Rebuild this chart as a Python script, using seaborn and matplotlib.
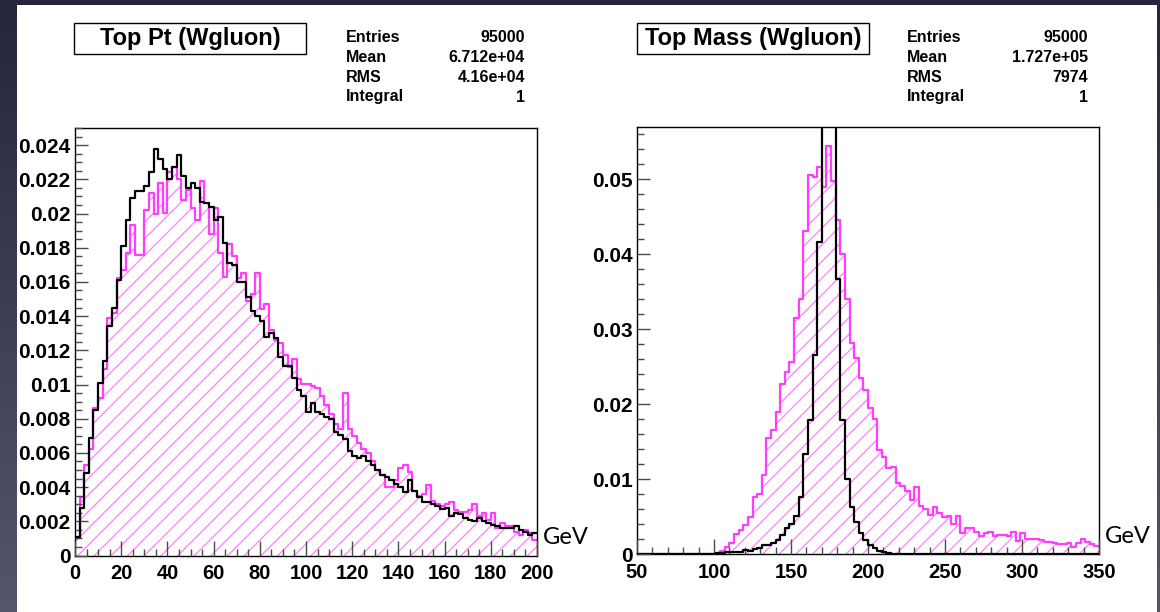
import numpy as np
import matplotlib
matplotlib.use("Agg")
import matplotlib.pyplot as plt
import seaborn as sns
from matplotlib.patches import Rectangle
from matplotlib.ticker import MultipleLocator, FixedLocator, FixedFormatter

# ---------------- data ----------------
pt_range = (0, 200)
pt_black = [0.00110, 0.00280, 0.00480, 0.00690, 0.00850, 0.01010, 0.01140, 0.01340, 0.01450, 0.01610,
            0.01810, 0.01960, 0.02090, 0.02130, 0.02130, 0.02160, 0.02240, 0.02380, 0.02320, 0.02260,
            0.02200, 0.02270, 0.02340, 0.02220, 0.02150, 0.02180, 0.02150, 0.02070, 0.02060, 0.02040,
            0.01960, 0.01980, 0.01830, 0.01710, 0.01700, 0.01600, 0.01600, 0.01510, 0.01430, 0.01400,
            0.01370, 0.01280, 0.01300, 0.01270, 0.01160, 0.01110, 0.01110, 0.01040, 0.00970, 0.00930,
            0.00840, 0.00890, 0.00840, 0.00830, 0.00810, 0.00800, 0.00720, 0.00705, 0.00680, 0.00610,
            0.00580, 0.00570, 0.00580, 0.00550, 0.00530, 0.00500, 0.00470, 0.00460, 0.00440, 0.00420,
            0.00400, 0.00370, 0.00440, 0.00380, 0.00340, 0.00315, 0.00315, 0.00300, 0.00290, 0.00270,
            0.00275, 0.00230, 0.00250, 0.00240, 0.00220, 0.00210, 0.00200, 0.00220, 0.00200, 0.00190,
            0.00180, 0.00170, 0.00160, 0.00160, 0.00160, 0.00170, 0.00150, 0.00140, 0.00120, 0.00130]
pt_pink = [0.00100, 0.00340, 0.00530, 0.00620, 0.00860, 0.00920, 0.01090, 0.01390, 0.01420, 0.01620,
           0.01670, 0.01770, 0.01930, 0.01760, 0.01760, 0.02020, 0.02120, 0.02000, 0.02180, 0.02000,
           0.02240, 0.02270, 0.02200, 0.02080, 0.02140, 0.02030, 0.01960, 0.02190, 0.02060, 0.01880,
           0.02030, 0.01770, 0.01630, 0.01820, 0.01750, 0.01620, 0.01650, 0.01490, 0.01530, 0.01650,
           0.01440, 0.01470, 0.01320, 0.01260, 0.01240, 0.01170, 0.01100, 0.01150, 0.01030, 0.01000,
           0.01000, 0.00990, 0.00980, 0.00930, 0.00880, 0.00830, 0.00770, 0.00740, 0.00950, 0.00740,
           0.00700, 0.00660, 0.00620, 0.00600, 0.00550, 0.00500, 0.00470, 0.00400, 0.00400, 0.00440,
           0.00510, 0.00530, 0.00490, 0.00380, 0.00350, 0.00360, 0.00410, 0.00320, 0.00300, 0.00290,
           0.00300, 0.00310, 0.00265, 0.00255, 0.00255, 0.00265, 0.00300, 0.00230, 0.00250, 0.00210,
           0.00250, 0.00160, 0.00190, 0.00170, 0.00170, 0.00140, 0.00120, 0.00150, 0.00130, 0.00090]

mass_range = (50, 350)
mass_black = [0.00010, 0.00005, 0.00010, 0.00005, 0.00010, 0.00005, 0.00005, 0.00010, 0.00005, 0.00005,
              0.00005, 0.00005, 0.00010, 0.00005, 0.00010, 0.00010, 0.00010, 0.00015, 0.00020, 0.00025,
              0.00025, 0.00037, 0.00037, 0.00060, 0.00050, 0.00070, 0.00080, 0.00120, 0.00120, 0.00150,
              0.00190, 0.00260, 0.00350, 0.00400, 0.00510, 0.00770, 0.01340, 0.01790, 0.02660, 0.04170,
              0.20000, 0.33000, 0.25000, 0.03670, 0.01790, 0.01010, 0.00630, 0.00430, 0.00280, 0.00190,
              0.00120, 0.00080, 0.00050, 0.00025, 0.00020, 0.00010, 0.00010, 0.00010, 0.00010, 0.00010,
              0.00005, 0.00005, 0.00005, 0.00005, 0.00005, 0.00005, 0.00005, 0.00005, 0.00005, 0.00005,
              0.00005, 0.00005, 0.00005, 0.00005, 0.00005, 0.00005, 0.00005, 0.00005, 0.00005, 0.00005,
              0.00005, 0.00005, 0.00005, 0.00005, 0.00005, 0.00005, 0.00005, 0.00005, 0.00005, 0.00005,
              0.00005, 0.00005, 0.00005, 0.00005, 0.00005, 0.00005, 0.00005, 0.00005, 0.00005, 0.00005]
mass_pink = [0.00005, 0.00005, 0.00005, 0.00005, 0.00005, 0.00005, 0.00005, 0.00005, 0.00005, 0.00005,
             0.00005, 0.00005, 0.00005, 0.00005, 0.00005, 0.00005, 0.00010, 0.00020, 0.00050, 0.00100,
             0.00150, 0.00270, 0.00320, 0.00390, 0.00500, 0.00770, 0.00810, 0.01060, 0.01550, 0.01660,
             0.01900, 0.02270, 0.02430, 0.02570, 0.03150, 0.03400, 0.04310, 0.05060, 0.05030, 0.05170,
             0.04900, 0.05450, 0.04980, 0.04460, 0.04000, 0.03400, 0.02820, 0.02620, 0.02350, 0.02190,
             0.01950, 0.01810, 0.01390, 0.01300, 0.01150, 0.01160, 0.00950, 0.00910, 0.00840, 0.00720,
             0.00900, 0.00640, 0.00600, 0.00520, 0.00630, 0.00550, 0.00500, 0.00510, 0.00400, 0.00510,
             0.00280, 0.00350, 0.00350, 0.00300, 0.00240, 0.00280, 0.00300, 0.00240, 0.00260, 0.00260,
             0.00240, 0.00300, 0.00180, 0.00280, 0.00210, 0.00200, 0.00210, 0.00190, 0.00170, 0.00170,
             0.00155, 0.00140, 0.00140, 0.00155, 0.00100, 0.00150, 0.00200, 0.00170, 0.00140, 0.00110]

pt_yticks = [0, 0.002, 0.004, 0.006, 0.008, 0.01, 0.012, 0.014, 0.016, 0.018, 0.02, 0.022, 0.024]
pt_ylabels = ["0", "0.002", "0.004", "0.006", "0.008", "0.01", "0.012", "0.014", "0.016",
              "0.018", "0.02", "0.022", "0.024"]
pt_xticks = [0, 20, 40, 60, 80, 100, 120, 140, 160, 180, 200]
mass_yticks = [0, 0.01, 0.02, 0.03, 0.04, 0.05]
mass_ylabels = ["0", "0.01", "0.02", "0.03", "0.04", "0.05"]
mass_xticks = [50, 100, 150, 200, 250, 300, 350]

titles = ["Top Pt (Wgluon)", "Top Mass (Wgluon)"]
stat_names = ["Entries", "Mean", "RMS", "Integral"]
stat_values = [["95000", "6.712e+04", "4.16e+04", "1"],
               ["95000", "1.727e+05", "7974", "1"]]
unit_label = "GeV"

# ---------------- style ----------------
W, H = 1160, 612
sns.set_theme(style="white")
plt.rcParams["font.family"] = ["Liberation Sans", "DejaVu Sans"]
plt.rcParams["hatch.linewidth"] = 0.9

PINK = "#ff3cff"
PINK_HATCH = "#ff80ff"
TICK_C = "#4a4a4a"

fig = plt.figure(figsize=(W / 100, H / 100), dpi=100)
fig.patch.set_facecolor("#2c2d43")

# gradient background + white page
bg = fig.add_axes([0, 0, 1, 1], zorder=-10)
grad = np.linspace(0, 1, 256)[:, None]
bg.imshow(grad, aspect="auto", cmap=matplotlib.colors.LinearSegmentedColormap.from_list(
    "bg", ["#25263b", "#55566b"]), extent=[0, 1, 0, 1], origin="upper")
bg.set_axis_off()


def fx(px):
    return px / W


def fy(py):
    return 1 - py / H


fig.add_artist(Rectangle((fx(16.7), fy(H)), fx(1157) - fx(16.7), fy(5) - fy(H),
                         transform=fig.transFigure, facecolor="white", edgecolor="none", zorder=-5))


def draw_panel(frame, rng, black, pink, ymax, yticks, ylabels, ytick_minor, xticks, xminor,
               title, values, box_x, stat_x, val_x):
    x0, y0, x1, y1 = frame
    ax = fig.add_axes([fx(x0), fy(y1), fx(x1) - fx(x0), fy(y0) - fy(y1)])
    edges = list(np.linspace(rng[0], rng[1], len(black) + 1))
    centers = [0.5 * (a + b) for a, b in zip(edges[:-1], edges[1:])]

    # hatched fill for pink histogram
    sns.histplot(x=centers, weights=pink, bins=edges, element="step", fill=True,
                 color=PINK_HATCH, ax=ax, linewidth=0, zorder=1)
    for coll in ax.collections:
        coll.set_facecolor("none")
        coll.set_edgecolor(PINK_HATCH)
        coll.set_hatch("//")
        coll.set_linewidth(0)
    sns.histplot(x=centers, weights=pink, bins=edges, element="step", fill=False,
                 color=PINK, ax=ax, linewidth=1.6, zorder=2)
    sns.histplot(x=centers, weights=black, bins=edges, element="step", fill=False,
                 color="black", ax=ax, linewidth=1.6, zorder=3)

    ax.set_xlim(rng)
    ax.set_ylim(0, ymax)
    ax.set_xlabel("")
    ax.set_ylabel("")
    ax.set_facecolor("white")
    ax.set_axisbelow(False)
    ax.yaxis.set_major_locator(FixedLocator(yticks))
    ax.yaxis.set_major_formatter(FixedFormatter(ylabels))
    ax.yaxis.set_minor_locator(MultipleLocator(ytick_minor))
    ax.xaxis.set_major_locator(FixedLocator(xticks))
    ax.xaxis.set_minor_locator(MultipleLocator(xminor))
    ax.tick_params(which="both", direction="in", width=1, color=TICK_C,
                   bottom=True, left=True, top=False, right=False)
    ax.tick_params(axis="x", which="major", length=10.5, labelsize=14.5, pad=6)
    ax.tick_params(axis="y", which="major", length=9, labelsize=15, pad=3)
    ax.tick_params(axis="x", which="minor", length=5.3)
    ax.tick_params(axis="y", which="minor", length=4.8)
    for lab in ax.get_xticklabels() + ax.get_yticklabels():
        lab.set_fontweight("bold")
        lab.set_color("black")
    for sp in ax.spines.values():
        sp.set_visible(True)
        sp.set_color("black")
        sp.set_linewidth(1.0)

    # title box
    bx0, bx1 = box_x
    fig.add_artist(Rectangle((fx(bx0), fy(54)), fx(bx1) - fx(bx0), fy(23) - fy(54),
                             transform=fig.transFigure, facecolor="white",
                             edgecolor="black", linewidth=1.0))
    fig.text(fx((bx0 + bx1) / 2), fy(39), title, ha="center", va="center",
             fontsize=17, fontweight="bold", color="black")
    # stats
    for i, (nm, val) in enumerate(zip(stat_names, values)):
        yy = fy(37 + 20 * i)
        fig.text(fx(stat_x), yy, nm, ha="left", va="center", fontsize=11.5,
                 fontweight="bold", color="black")
        fig.text(fx(val_x), yy, val, ha="right", va="center", fontsize=11.5,
                 fontweight="bold", color="black")
    # unit label
    fig.text(fx(x1 + 6), fy(y1 - 18), unit_label, ha="left", va="center",
             fontsize=17, family=["Lato", "DejaVu Sans"], color="black")
    return ax


draw_panel((75, 128, 537, 555.5), pt_range, pt_black, pt_pink, 0.025, pt_yticks, pt_ylabels,
           0.0005, pt_xticks, 5, titles[0], stat_values[0], (74, 306), 346, 525)
draw_panel((637, 127, 1099, 554.3), mass_range, mass_black, mass_pink, 0.057, mass_yticks,
           mass_ylabels, 0.002, mass_xticks, 10, titles[1], stat_values[1], (637, 869), 907, 1088)

fig.savefig("out.png", dpi=100, facecolor=fig.get_facecolor())
